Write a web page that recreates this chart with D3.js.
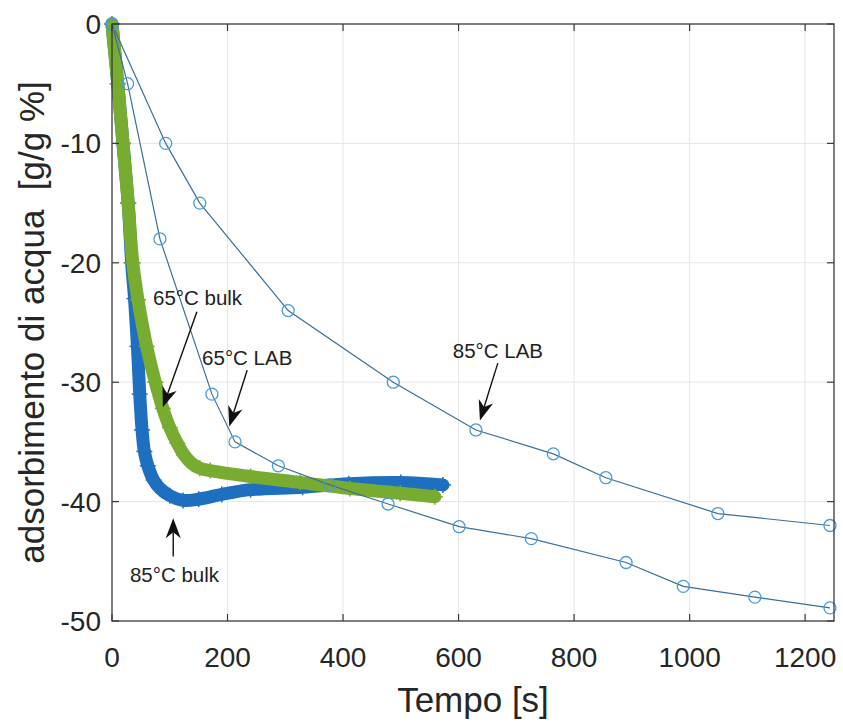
<!DOCTYPE html>
<html lang="it">
<head>
<meta charset="UTF-8">
<script src="https://d3js.org/d3.v7.min.js"></script>
<style>
  body { margin: 0; background: #fff; }
  svg text { font-family: "Liberation Sans", Arial, sans-serif; fill: #262626; }
</style>
</head>
<body>
<svg id="chart" width="843" height="724"></svg>
<script>
// tick values
const xTicks = [0, 200, 400, 600, 800, 1000, 1200];
const yTicks = [0, -10, -20, -30, -40, -50];

// 85°C bulk (blue band)
const bulk85T = [0, 10, 19, 28, 34, 39, 44, 48, 52, 56, 62, 72, 83, 100, 123, 150, 190, 240, 330, 410, 500, 573];
const bulk85V = [0, -5, -10, -15, -20, -23, -27, -31, -34, -35.8, -37, -38.2, -38.9, -39.5, -39.9, -39.8, -39.4, -39.0, -38.8, -38.5, -38.4, -38.6];

// 65°C bulk (green band)
const bulk65T = [0, 10, 19, 28, 36, 45, 60, 75, 88, 100, 113, 125, 138, 152, 170, 240, 326, 412, 499, 559];
const bulk65V = [0, -5, -10, -15, -20, -23.1, -27, -30, -32.2, -33.8, -35.1, -36.1, -36.8, -37.2, -37.4, -37.9, -38.4, -38.9, -39.3, -39.6];

// 85°C LAB (open circles, upper)
const lab85T = [0, 93, 152, 305, 487, 630, 764, 855, 1049, 1243];
const lab85V = [0, -10, -15, -24, -30, -34, -36, -38, -41, -42];

// 65°C LAB (open circles, lower)
const lab65T = [0, 27, 83, 173, 213, 288, 377, 478, 601, 726, 890, 989, 1113, 1243];
const lab65V = [0, -5, -18, -31, -35, -37, -38.6, -40.2, -42.1, -43.1, -45.1, -47.1, -48, -48.9];

const zip = (t, v) => t.map((d, i) => [d, v[i]]);

const svg = d3.select("#chart");
const mLeft = 112, mRight = 834, mTop = 24, mBottom = 621;

const x = d3.scaleLinear().domain([0, 1250]).range([mLeft, mRight]);
const y = d3.scaleLinear().domain([-50, 0]).range([mBottom, mTop]);

// grid
svg.append("g").selectAll("line").data(xTicks.slice(1)).enter().append("line")
  .attr("x1", d => x(d)).attr("x2", d => x(d)).attr("y1", mTop).attr("y2", mBottom)
  .attr("stroke", "#e6e6e6").attr("stroke-width", 1);
svg.append("g").selectAll("line").data(yTicks.slice(1, -1)).enter().append("line")
  .attr("y1", d => y(d)).attr("y2", d => y(d)).attr("x1", mLeft).attr("x2", mRight)
  .attr("stroke", "#e6e6e6").attr("stroke-width", 1);

// bulk bands
const bandLine = d3.line().x(d => x(d[0])).y(d => y(d[1])).curve(d3.curveCatmullRom);

function drawBulk(data, color) {
  svg.append("path").datum(data)
    .attr("d", bandLine)
    .attr("fill", "none").attr("stroke", color)
    .attr("stroke-width", 13).attr("stroke-linejoin", "round").attr("stroke-linecap", "round");
  // '+' markers
  const g = svg.append("g").attr("stroke", color).attr("stroke-width", 1.5);
  data.forEach(d => {
    const cx = x(d[0]), cy = y(d[1]);
    g.append("line").attr("x1", cx - 8).attr("x2", cx + 8).attr("y1", cy).attr("y2", cy);
    g.append("line").attr("x1", cx).attr("x2", cx).attr("y1", cy - 8).attr("y2", cy + 8);
  });
}
drawBulk(zip(bulk85T, bulk85V), "#1f6fc0");
drawBulk(zip(bulk65T, bulk65V), "#77ac30");

// LAB curves
const lin = d3.line().x(d => x(d[0])).y(d => y(d[1]));
function drawLab(data) {
  svg.append("path").datum(data).attr("d", lin)
    .attr("fill", "none").attr("stroke", "#3a6e9c").attr("stroke-width", 1.2);
  svg.append("g").selectAll("circle").data(data).enter().append("circle")
    .attr("cx", d => x(d[0])).attr("cy", d => y(d[1])).attr("r", 6)
    .attr("fill", "none").attr("stroke", "#4a9ad8").attr("stroke-width", 1.3);
}
drawLab(zip(lab85T, lab85V));
drawLab(zip(lab65T, lab65V));

// axes box
const axisColor = "#3a3a3a";
svg.append("rect").attr("x", mLeft).attr("y", mTop).attr("width", mRight - mLeft).attr("height", mBottom - mTop)
  .attr("fill", "none").attr("stroke", axisColor).attr("stroke-width", 1.3);

const tk = svg.append("g").attr("stroke", axisColor).attr("stroke-width", 1.2);
xTicks.forEach(d => {
  tk.append("line").attr("x1", x(d)).attr("x2", x(d)).attr("y1", mBottom).attr("y2", mBottom - 7);
  tk.append("line").attr("x1", x(d)).attr("x2", x(d)).attr("y1", mTop).attr("y2", mTop + 7);
});
yTicks.forEach(d => {
  tk.append("line").attr("y1", y(d)).attr("y2", y(d)).attr("x1", mLeft).attr("x2", mLeft + 7);
  tk.append("line").attr("y1", y(d)).attr("y2", y(d)).attr("x1", mRight).attr("x2", mRight - 7);
});

// tick labels
svg.append("g").selectAll("text").data(xTicks).enter().append("text")
  .attr("x", d => x(d)).attr("y", 667).attr("text-anchor", "middle")
  .attr("font-size", 28).text(d => d);
svg.append("g").selectAll("text").data(yTicks).enter().append("text")
  .attr("x", 101).attr("y", d => y(d) + 10).attr("text-anchor", "end")
  .attr("font-size", 28).text(d => d);

// axis labels
svg.append("text").attr("x", (mLeft + mRight) / 2).attr("y", 712).attr("text-anchor", "middle")
  .attr("font-size", 35).text("Tempo [s]");
svg.append("text").attr("transform", "translate(44," + ((mTop + mBottom) / 2) + ") rotate(-90)")
  .attr("text-anchor", "middle").attr("font-size", 35).attr("xml:space", "preserve")
  .text("adsorbimento di acqua  [g/g %]");

// annotations (text at data coords, arrows tail -> tip)
const notes = [
  { label: "65°C bulk", at: [71, -23.5], tail: [147, -24.1], tip: [88, -32.1] },
  { label: "65°C LAB", at: [156, -28.6], tail: [234, -29.0], tip: [203, -33.7] },
  { label: "85°C LAB", at: [590, -28.0], tail: [668, -28.4], tip: [637, -33.2] },
  { label: "85°C bulk", at: [31, -46.7], tail: [106, -44.6], tip: [106, -41.4] }
];
notes.forEach(n => {
  svg.append("text").attr("x", x(n.at[0])).attr("y", y(n.at[1]))
    .attr("font-size", 20.5).style("fill", "#222").text(n.label);
  const x0 = x(n.tail[0]), y0 = y(n.tail[1]), x1 = x(n.tip[0]), y1 = y(n.tip[1]);
  const len = Math.hypot(x1 - x0, y1 - y0);
  const ux = (x1 - x0) / len, uy = (y1 - y0) / len;
  const px = -uy, py = ux;
  const L = 20, W = 15;
  const bx = x1 - L * ux, by = y1 - L * uy;
  const nx = x1 - 0.7 * L * ux, ny = y1 - 0.7 * L * uy;
  svg.append("line").attr("x1", x0).attr("y1", y0).attr("x2", nx).attr("y2", ny)
    .attr("stroke", "#111").attr("stroke-width", 1.4);
  svg.append("path")
    .attr("d", `M${x1},${y1}L${bx + px * W / 2},${by + py * W / 2}L${nx},${ny}L${bx - px * W / 2},${by - py * W / 2}Z`)
    .attr("fill", "#111");
});
</script>
</body>
</html>
